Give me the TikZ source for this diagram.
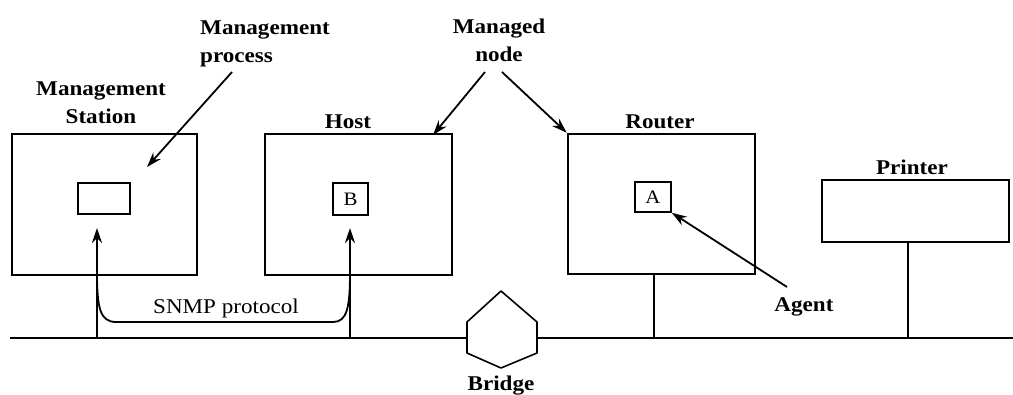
\documentclass[tikz,border=0pt]{standalone}
\usepackage{fontspec}
\setmainfont{Liberation Serif}
\newfontfamily\lblfont[FakeStretch=1.1]{Liberation Serif}
\usetikzlibrary{arrows.meta}
\begin{document}
\begin{tikzpicture}[x=1pt,y=-1pt,
  box/.style={draw, line width=2.6pt, inner sep=0pt},
  ibox/.style={draw, line width=1.6pt, inner sep=0pt, font=\lblfont\fontsize{19}{22}\selectfont},
  lbl/.style={font=\lblfont\bfseries\fontsize{21}{28}\selectfont, inner sep=0pt},
  slbl/.style={font=\lblfont\fontsize{21}{28}\selectfont, inner sep=0pt},
  wire/.style={line width=1.4pt},
  arr/.style={line width=1.8pt, -{Stealth[length=15pt,width=10pt]}},
  darr/.style={line width=1.8pt, {Stealth[length=15pt,width=10pt]}-{Stealth[length=15pt,width=10pt]}},
]
\useasboundingbox (0,0) rectangle (1013,394);

% boxes
\node[box, minimum width=185pt, minimum height=141pt] (ms) at (104.5,204.5) {};
\node[box, minimum width=187pt, minimum height=141pt] (host) at (358.5,204.5) {};
\node[box, minimum width=187pt, minimum height=140pt] (router) at (661.5,204) {};
\node[box, minimum width=187pt, minimum height=62pt] (printer) at (915.5,211) {};

% inner boxes
\node[ibox, minimum width=52pt, minimum height=31pt] (mp) at (104,198.5) {};
\node[ibox, minimum width=35pt, minimum height=32pt] (b) at (350.5,199) {B};
\node[ibox, minimum width=36pt, minimum height=30pt] (a) at (653,197) {A};

% labels
\node[lbl, align=center] (lms) at (101,103) {Management\\Station};
\node[lbl, align=left, anchor=west] (lmp) at (200,44) {Management\\process};
\node[lbl, align=center] (lmn) at (499,40) {Managed\\node};
\node[lbl, anchor=base] (lhost) at (348,128) {Host};
\node[lbl, anchor=base] (lrouter) at (660,128) {Router};
\node[lbl, anchor=base] (lprinter) at (912,174) {Printer};
\node[lbl, anchor=base] (lagent) at (804,311) {Agent};
\node[lbl, anchor=base] (lbridge) at (501,390) {Bridge};
\node[slbl, anchor=base] (lsnmp) at (226,313) {SNMP protocol};

% bridge
\coordinate (brT) at (501,291);
\coordinate (brUR) at (537,322);
\coordinate (brLR) at (537,353);
\coordinate (brB) at (501,368);
\coordinate (brLL) at (467,353);
\coordinate (brUL) at (467,322);
\coordinate (brW) at (467,338);
\coordinate (brE) at (537,338);
\draw[line width=1.6pt, line join=round] (brT) -- (brUR) -- (brLR) -- (brB) -- (brLL) -- (brUL) -- cycle;

% bus
\coordinate (busL) at (10,338);
\coordinate (busR) at (1013,338);
\draw[wire] (busL) -- (brW);
\draw[wire] (brE) -- (busR);

% drops
\coordinate (dms) at (97,338);
\coordinate (dhost) at (350,338);
\coordinate (drouter) at (654,338);
\coordinate (dprinter) at (908,338);
\draw[wire] (ms.south -| dms) -- (dms);
\draw[wire] (host.south -| dhost) -- (dhost);
\draw[line width=1.8pt] (router.south -| drouter) -- (drouter);
\draw[wire] (printer.south -| dprinter) -- (dprinter);

% SNMP protocol arrow
\coordinate (t1) at (97,228);
\coordinate (t2) at (350,228);
\draw[darr] (t1) -- (97,272) .. controls (97,308) and (100,322) .. (116,322)
  -- (333,322) .. controls (347,322) and (350,308) .. (350,272) -- (t2);

% annotation arrows
\coordinate (mpS) at (232,72);
\coordinate (mpE) at (147,167);
\draw[arr] (mpS) -- (mpE);
\coordinate (mn1) at (485,72);
\coordinate (mn2) at (502,72);
\draw[arr] (mn1) -- (433,135);
\draw[arr] (mn2) -- (router.north west);
\coordinate (agS) at (787,287);
\draw[arr] (agS) -- (a.south east);
\end{tikzpicture}
\end{document}
